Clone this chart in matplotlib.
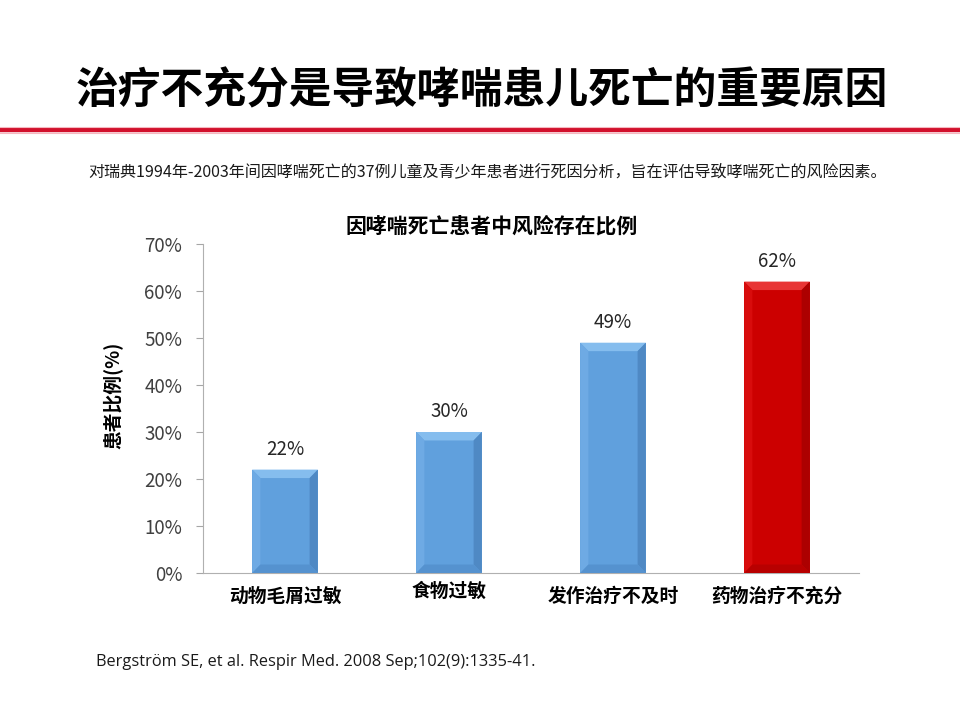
import matplotlib
matplotlib.use('Agg')
import matplotlib.pyplot as plt
import matplotlib.transforms as mtransforms
from matplotlib.patches import Polygon

plt.rcParams['font.family'] = ['Noto Sans CJK SC', 'DejaVu Sans']

# data
categories = ['动物毛屑过敏', '食物过敏', '发作治疗不及时', '药物治疗不充分']
values = [0.22, 0.30, 0.49, 0.62]
labels = ['22%', '30%', '49%', '62%']
yticks = [0, 0.1, 0.2, 0.3, 0.4, 0.5, 0.6, 0.7]
ytick_labels = ['0%', '10%', '20%', '30%', '40%', '50%', '60%', '70%']

main_title = '治疗不充分是导致哮喘患儿死亡的重要原因'
sub_text = '对瑞典1994年-2003年间因哮喘死亡的37例儿童及青少年患者进行死因分析，旨在评估导致哮喘死亡的风险因素。'
chart_title = '因哮喘死亡患者中风险存在比例'
y_title = '患者比例(%)'
ref_text = 'Bergström SE, et al. Respir Med. 2008 Sep;102(9):1335-41.'

# colours: (main, top bevel, left bevel, right bevel, bottom bevel)
blue = ('#60a0dd', '#85bdee', '#6eaae4', '#4f89c4', '#5592cf')
red = ('#cc0000', '#e83434', '#d80c0c', '#ac0000', '#b80000')
bar_colors = [blue, blue, blue, red]

fig = plt.figure(figsize=(9.6, 7.2), dpi=100)
fig.patch.set_facecolor('white')

# page title + red rule
fig.text(0.502, 0.874, main_title, ha='center', va='center', fontsize=30.8,
         fontweight='black', color='black')
fig.add_artist(plt.Line2D([0, 1], [1 - 129.5 / 720] * 2, color='#d2102c', lw=3.2))
fig.add_artist(plt.Line2D([0, 1], [1 - 126.5 / 720] * 2, color='#f5b8c0', lw=0.8))
fig.add_artist(plt.Line2D([0, 1], [1 - 132.5 / 720] * 2, color='#f5b8c0', lw=0.8))
fig.text(488 / 960, 1 - 172 / 720, sub_text, ha='center', va='center', fontsize=11.55,
         color='#1a1a1a')

ax = fig.add_axes([203 / 960, 1 - 573 / 720, 656 / 960, 329 / 720])
x = list(range(len(categories)))
bw = 0.40
bars = ax.bar(x, values, width=bw, color=[c[0] for c in bar_colors], zorder=2)

ax.set_xlim(-0.5, len(categories) - 0.5)
ax.set_ylim(0, 0.70)

# bevel effect on each bar
bx = 0.05
by = 0.018
for b, c in zip(bars, bar_colors):
    x0 = b.get_x()
    x1 = x0 + b.get_width()
    h = b.get_height()
    ax.add_patch(Polygon([(x0, h), (x1, h), (x1 - bx, h - by), (x0 + bx, h - by)],
                         closed=True, fc=c[1], ec='none', zorder=3))
    ax.add_patch(Polygon([(x0, 0), (x0, h), (x0 + bx, h - by), (x0 + bx, by)],
                         closed=True, fc=c[2], ec='none', zorder=3))
    ax.add_patch(Polygon([(x1, 0), (x1, h), (x1 - bx, h - by), (x1 - bx, by)],
                         closed=True, fc=c[3], ec='none', zorder=3))
    ax.add_patch(Polygon([(x0, 0), (x1, 0), (x1 - bx, by), (x0 + bx, by)],
                         closed=True, fc=c[4], ec='none', zorder=3))

for xi, v, t in zip(x, values, labels):
    ax.annotate(t, (xi, v), xytext=(0, 7), textcoords='offset points',
                ha='center', va='bottom', fontsize=13.5, color='#262626')

ax.set_yticks(yticks)
ax.set_yticklabels(ytick_labels, fontsize=13.5, color='#404040')
ax.set_xticks(x)
ax.set_xticklabels(categories, fontsize=13.5, fontweight='bold', color='black')
ax.tick_params(axis='x', length=0, pad=10)
ax.tick_params(axis='y', length=5, color='#a6a6a6', width=0.8, pad=10)

# second label sits a little higher in the original
lab = ax.get_xticklabels()[1]
lab.set_transform(lab.get_transform() + mtransforms.ScaledTranslation(0, 5 / 100, fig.dpi_scale_trans))

for s in ['top', 'right']:
    ax.spines[s].set_visible(False)
for s in ['left', 'bottom']:
    ax.spines[s].set_color('#b0b0b0')
    ax.spines[s].set_linewidth(0.8)

ax.set_ylabel(y_title, fontsize=13.5, fontweight='bold', color='black')
ax.yaxis.set_label_coords(-0.123, 0.541)
fig.text(492 / 960, 1 - 226 / 720, chart_title, ha='center', va='center', fontsize=15,
         fontweight='bold', color='black')

fig.text(96 / 960, 1 - 662 / 720, ref_text, ha='left', va='center', fontsize=11.75,
         color='#1a1a1a', family=['Open Sans', 'DejaVu Sans'])

fig.savefig('out.png', dpi=100)
